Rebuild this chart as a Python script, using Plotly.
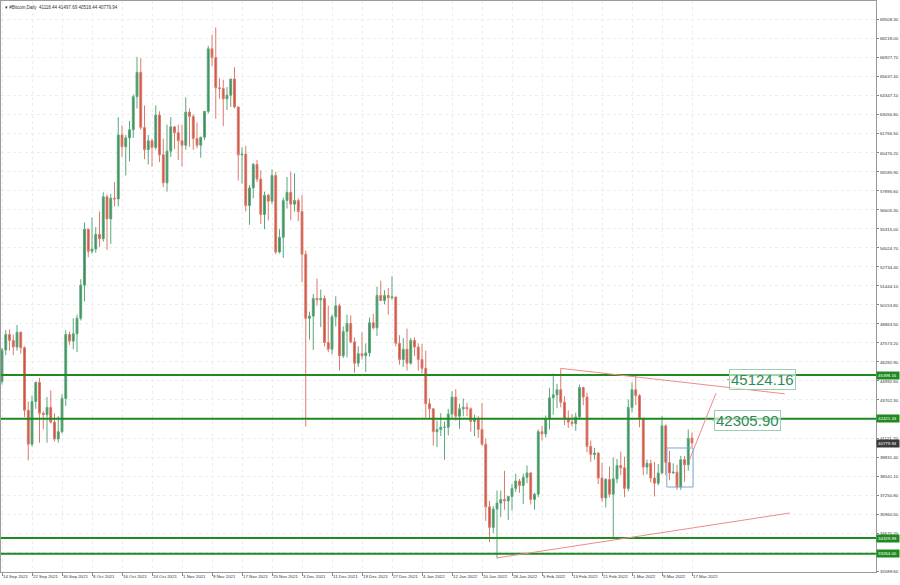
import plotly.graph_objects as go
import pandas as pd

# ---------------- data ----------------
start_date = "2021-09-14"

opens = [
    # Sep 14-30
    44960, 47100, 48150, 47750, 47300, 48300, 47250, 43000, 40700, 43600, 44900, 42800, 42700, 43200, 42200, 41050, 41550,
    # Oct
    43800, 48150, 47700, 48200, 49250, 51500, 55300, 53800, 53950, 54950, 54650, 57500, 56000, 57400, 57350, 61700,
    60900, 61500, 62050, 64300, 65950, 62200, 60700, 61300, 60850, 63050, 60350, 58450, 60600, 62250, 61850,
    # Nov
    61300, 61000, 63250, 62950, 61450, 61000, 61550, 63300, 67550, 66950, 64900, 64850, 64150, 64400, 65500, 63600,
    60350, 60400, 56900, 58100, 59700, 58700, 56300, 57600, 57200, 58950, 53750, 54750, 57250, 57800,
    # Dec
    57000, 57250, 56500, 53600, 49250, 49400, 50600, 50500, 50600, 47600, 47150, 49350, 50100, 46700, 48350, 48900,
    47650, 46200, 46850, 46700, 46900, 48950, 48600, 50800, 50450, 50800, 50650, 50700, 47550, 46450, 47150,
    # Jan
    46200, 47750, 47300, 46450, 45850, 43450, 43100, 41550, 41700, 41850, 41850, 42750, 43900, 42600, 43100, 43200,
    43100, 42250, 42400, 41700, 40700, 36450, 35050, 36300, 36700, 36950, 36850, 37150, 37700, 38200, 37900,
    # Feb
    38450, 38750, 36950, 37300, 41550, 41400, 42400, 43850, 44050, 44400, 43550, 42400, 42200, 42100, 42550, 44550,
    43900, 40550, 40000, 40100, 38400, 37050, 38300, 37300, 38350, 39250, 39100, 37700,
    # Mar 1-17
    43200, 44400, 44000, 42450, 39150, 39400, 38400, 38050, 38750, 41950, 39450, 38750, 38800, 37800, 39650, 39300, 41118.44,
]

highs = [
    47250, 48450, 48500, 48150, 48800, 48350, 47350, 43600, 44000, 44950, 45200, 42950, 43900, 44350, 42800, 42600, 44100,
    48450, 48350, 49250, 49500, 51900, 55750, 55350, 56100, 55450, 56500, 57800, 57650, 57700, 58500, 62900, 62350,
    61700, 62650, 64450, 67000, 66900, 63700, 61700, 61450, 63700, 63300, 61450, 62400, 62900, 62300, 62400,
    62400, 64250, 63500, 63100, 62550, 61550, 63300, 67750, 68500, 69000, 65550, 65450, 64950, 65500, 66300, 63600,
    60850, 60950, 58300, 59800, 60000, 59300, 57850, 57700, 59350, 59200, 55300, 57450, 58850, 59200,
    59100, 57400, 57600, 53850, 49700, 50900, 51950, 51200, 50800, 50100, 49500, 50750, 50250, 48700, 49500, 49450,
    47950, 47350, 48300, 47550, 49300, 49550, 51400, 51800, 51150, 51300, 52100, 50700, 48100, 47900, 48550,
    47900, 47950, 47550, 47500, 47050, 43800, 43150, 42300, 42800, 42250, 43100, 44300, 44450, 43450, 43800, 43500,
    43200, 42700, 42600, 43500, 41100, 36850, 36500, 37550, 37550, 38900, 37200, 38000, 38700, 38350, 38700,
    39250, 38800, 37400, 41700, 41950, 42650, 44500, 45500, 44800, 45850, 43950, 43000, 42750, 42850, 44750, 44600,
    44200, 40950, 40450, 40150, 39450, 38400, 39200, 39800, 39700, 40200, 39850, 43750,
    44900, 45400, 44100, 42500, 39650, 39650, 39500, 39350, 42600, 42050, 40250, 39400, 39300, 39900, 39900, 41700, 41497.69,
]

lows = [
    44750, 46750, 47050, 46750, 47050, 46850, 42550, 39600, 40550, 43100, 40800, 41700, 40800, 42100, 40900, 40800, 41450,
    43300, 47450, 47150, 46950, 49100, 50400, 53400, 53650, 53700, 54100, 54450, 53900, 54300, 56850, 56850, 60200,
    58950, 59900, 61500, 63500, 62050, 60050, 59700, 59550, 60700, 59850, 58150, 57850, 60200, 60750, 60000,
    59550, 60700, 60900, 60700, 60800, 60150, 61350, 63150, 66350, 62800, 64150, 62300, 63400, 63600, 63500, 58600,
    58400, 56500, 55600, 57400, 58500, 55650, 55300, 55900, 57000, 53600, 53650, 53350, 56700, 55900,
    56500, 55850, 51700, 41900, 47800, 47100, 50100, 48650, 47350, 46950, 46800, 48700, 45700, 46550, 46600, 47550,
    45550, 45950, 46450, 45600, 46650, 48500, 48050, 50450, 50200, 49500, 50500, 47350, 46100, 45950, 45700,
    46100, 46700, 45700, 45500, 42500, 42450, 40600, 40500, 41250, 39650, 41300, 42500, 42300, 41750, 42600, 42600,
    41550, 41250, 41150, 40600, 35500, 34050, 34650, 32950, 35750, 36250, 35550, 36200, 37450, 37400, 36650,
    38050, 36600, 36250, 37100, 40950, 41150, 41700, 42700, 43150, 43200, 42000, 41800, 41900, 41600, 42450, 43350,
    40150, 39500, 39650, 38000, 36800, 36400, 37100, 34350, 38050, 38600, 37100, 37500,
    42850, 43350, 41850, 38600, 38650, 38100, 37150, 37900, 38650, 38600, 38250, 38700, 37600, 37600, 38150, 38900, 40518.44,
]

closes = [
    47100, 48150, 47750, 47300, 48300, 47250, 43000, 40700, 43600, 44900, 42800, 42700, 43200, 42200, 41050, 41550, 43800,
    48150, 47700, 48200, 49250, 51500, 55300, 53800, 53950, 54950, 54650, 57500, 56000, 57400, 57350, 61700, 60900,
    61500, 62050, 64300, 65950, 62200, 60700, 61300, 60850, 63050, 60350, 58450, 60600, 62250, 61850, 61300,
    61000, 63250, 62950, 61450, 61000, 61550, 63300, 67550, 66950, 64900, 64850, 64150, 64400, 65500, 63600, 60350,
    60400, 56900, 58100, 59700, 58700, 56300, 57600, 57200, 58950, 53750, 54750, 57250, 57800, 57000,
    57250, 56500, 53600, 49250, 49400, 50600, 50500, 50600, 47600, 47150, 49350, 50100, 46700, 48350, 48900, 47650,
    46200, 46850, 46700, 46900, 48950, 48600, 50800, 50450, 50800, 50650, 50700, 47550, 46450, 47150, 46200,
    47750, 47300, 46450, 45850, 43450, 43100, 41550, 41700, 41850, 41850, 42750, 43900, 42600, 43100, 43200, 43100,
    42250, 42400, 41700, 40700, 36450, 35050, 36300, 36700, 36950, 36850, 37150, 37700, 38200, 37900, 38450,
    38750, 36950, 37300, 41550, 41400, 42400, 43850, 44050, 44400, 43550, 42400, 42200, 42100, 42550, 44550, 43900,
    40550, 40000, 40100, 38400, 37050, 38300, 37300, 38350, 39250, 39100, 37700, 43200,
    44400, 44000, 42450, 39150, 39400, 38400, 38050, 38750, 41950, 39450, 38750, 38800, 37800, 39650, 39300, 41100, 40779.94,
]

dates = pd.date_range(start_date, periods=len(closes), freq="D")

# price axis labels (MT4 style), some hidden behind level labels
y_tick_values = [32089.60, 33379.90, 34670.20, 35960.50, 37250.80, 38541.10, 39831.40, 41121.70, 42412.00,
                 43702.30, 44992.60, 46282.90, 47573.20, 48863.50, 50153.80, 51444.10, 52734.40, 54024.70,
                 55315.00, 56605.30, 57895.60, 59185.90, 60476.20, 61766.50, 63056.80, 64347.10, 65637.40,
                 66927.70, 68218.00, 69508.30]
y_hidden_labels = [33379.90, 42412.00]

# date axis labels
x_tick_dates = pd.date_range("2021-09-14", "2022-03-17", freq="8D")
x_tick_labels = [f"{d.day} {d.strftime('%b %Y')}" for d in x_tick_dates]

# horizontal support / resistance levels
level_prices = [45398.16, 42421.33, 34329.99, 33264.00]

# trend lines drawn on the chart: (date0, price0, date1, price1)
trend_lines = [
    ("2022-02-10", 45850, "2022-04-10 18:00", 44120),
    ("2022-03-16 05:00", 39560, "2022-03-23 10:00", 44177),
    ("2022-01-24", 32980, "2022-04-12 02:00", 36028),
]

# consolidation box
box_dates = ["2022-03-10 07:00", "2022-03-17 07:00"]
box_prices = [37794, 40443]

# price text labels
text_labels = [
    ("2022-04-04 22:00", 45094, "45124.16"),
    ("2022-03-31 22:00", 42344, "42305.90"),
]

x_range = ["2021-09-13 17:30", "2022-05-05 01:40"]
y_range = [32023, 70794]

FONT = "Liberation Sans"
GREEN = "#1f8a1f"
LBL = 4.4

# ---------------- figure ----------------
fig = go.Figure()
fig.add_trace(go.Candlestick(
    x=dates, open=opens, high=highs, low=lows, close=closes,
    increasing=dict(line=dict(color="#5aa77a", width=1), fillcolor="#3d8c5c"),
    decreasing=dict(line=dict(color="#dc7a6c", width=1), fillcolor="#c94f3b"),
    whiskerwidth=0, showlegend=False, hoverinfo="skip",
))

shapes = []
annotations = []

for lvl in level_prices:
    shapes.append(dict(type="line", xref="paper", x0=0, x1=1, yref="y", y0=lvl, y1=lvl,
                       line=dict(color=GREEN, width=2), layer="above"))
    annotations.append(dict(xref="paper", x=1, xanchor="left", xshift=0, yref="y", y=lvl, yanchor="middle",
                            text=f"{lvl:.2f}", showarrow=False, bgcolor=GREEN, borderpad=1,
                            font=dict(family=FONT, size=LBL, color="white"), width=20, align="left"))

for (d0, p0, d1, p1) in trend_lines:
    shapes.append(dict(type="line", xref="x", yref="y", x0=d0, y0=p0, x1=d1, y1=p1,
                       line=dict(color="#f08a8a", width=1), layer="above"))

shapes.append(dict(type="rect", xref="x", yref="y", x0=box_dates[0], x1=box_dates[1],
                   y0=box_prices[0], y1=box_prices[1], line=dict(color="#7aa6d2", width=1),
                   fillcolor="rgba(0,0,0,0)", layer="above"))

for (d, p, t) in text_labels:
    annotations.append(dict(xref="x", x=d, yref="y", y=p, text=t, showarrow=False,
                            font=dict(family=FONT, size=15, color="#2e8b57"),
                            bordercolor="#9ccfae", borderwidth=1, borderpad=1,
                            bgcolor="rgba(255,255,255,0.6)"))
    shapes.append(dict(type="line", xref="x", yref="y", xsizemode="pixel", xanchor=d,
                       x0=-36, x1=-30, y0=p, y1=p, line=dict(color="#7fbf95", width=1)))

# current price label on axis
last = closes[-1]
annotations.append(dict(xref="paper", x=1, xanchor="left", yref="y", y=last, yanchor="middle",
                        text=f"{last:.2f}", showarrow=False, bgcolor="#3a3a3a", borderpad=1,
                        font=dict(family=FONT, size=LBL, color="white"), width=20, align="left"))

# header
annotations.append(dict(xref="paper", x=0, xanchor="left", yref="paper", y=1, yanchor="top",
                        xshift=2, yshift=-2, showarrow=False,
                        text=f"▾ #Bitcoin,Daily  {opens[-1]:.2f} {highs[-1]:.2f} {lows[-1]:.2f} {closes[-1]:.2f}",
                        font=dict(family=FONT, size=4.5, color="#333333")))

y_tick_text = ["" if v in y_hidden_labels else f"{v:.2f}" for v in y_tick_values]

fig.update_layout(
    width=900, height=585,
    margin=dict(l=1, r=24, t=1, b=13),
    paper_bgcolor="white", plot_bgcolor="white",
    shapes=shapes, annotations=annotations,
    xaxis=dict(type="date", range=x_range, rangeslider=dict(visible=False), automargin=False,
               tickmode="array", tickvals=x_tick_dates, ticktext=x_tick_labels, tickangle=0,
               ticks="outside", ticklen=3, tickcolor="#888888", ticklabelposition="outside right",
               tickfont=dict(family=FONT, size=LBL, color="#333333"),
               showgrid=True, gridcolor="#ededed", griddash="dot", gridwidth=1,
               showline=True, linecolor="#9a9a9a", linewidth=1, mirror=True, zeroline=False,
               fixedrange=True),
    yaxis=dict(side="right", range=y_range, tickmode="array", tickvals=y_tick_values, ticktext=y_tick_text,
               automargin=False, ticks="outside", ticklen=2, tickcolor="#888888",
               tickfont=dict(family=FONT, size=LBL, color="#333333"),
               showgrid=True, gridcolor="#ededed", griddash="dot", gridwidth=1,
               showline=True, linecolor="#9a9a9a", linewidth=1, mirror=True, zeroline=False,
               fixedrange=True),
)

fig.write_html("out.html", config={"displayModeBar": False, "staticPlot": True},
               post_script="document.body.style.margin='0px';document.body.style.padding='0px';")
